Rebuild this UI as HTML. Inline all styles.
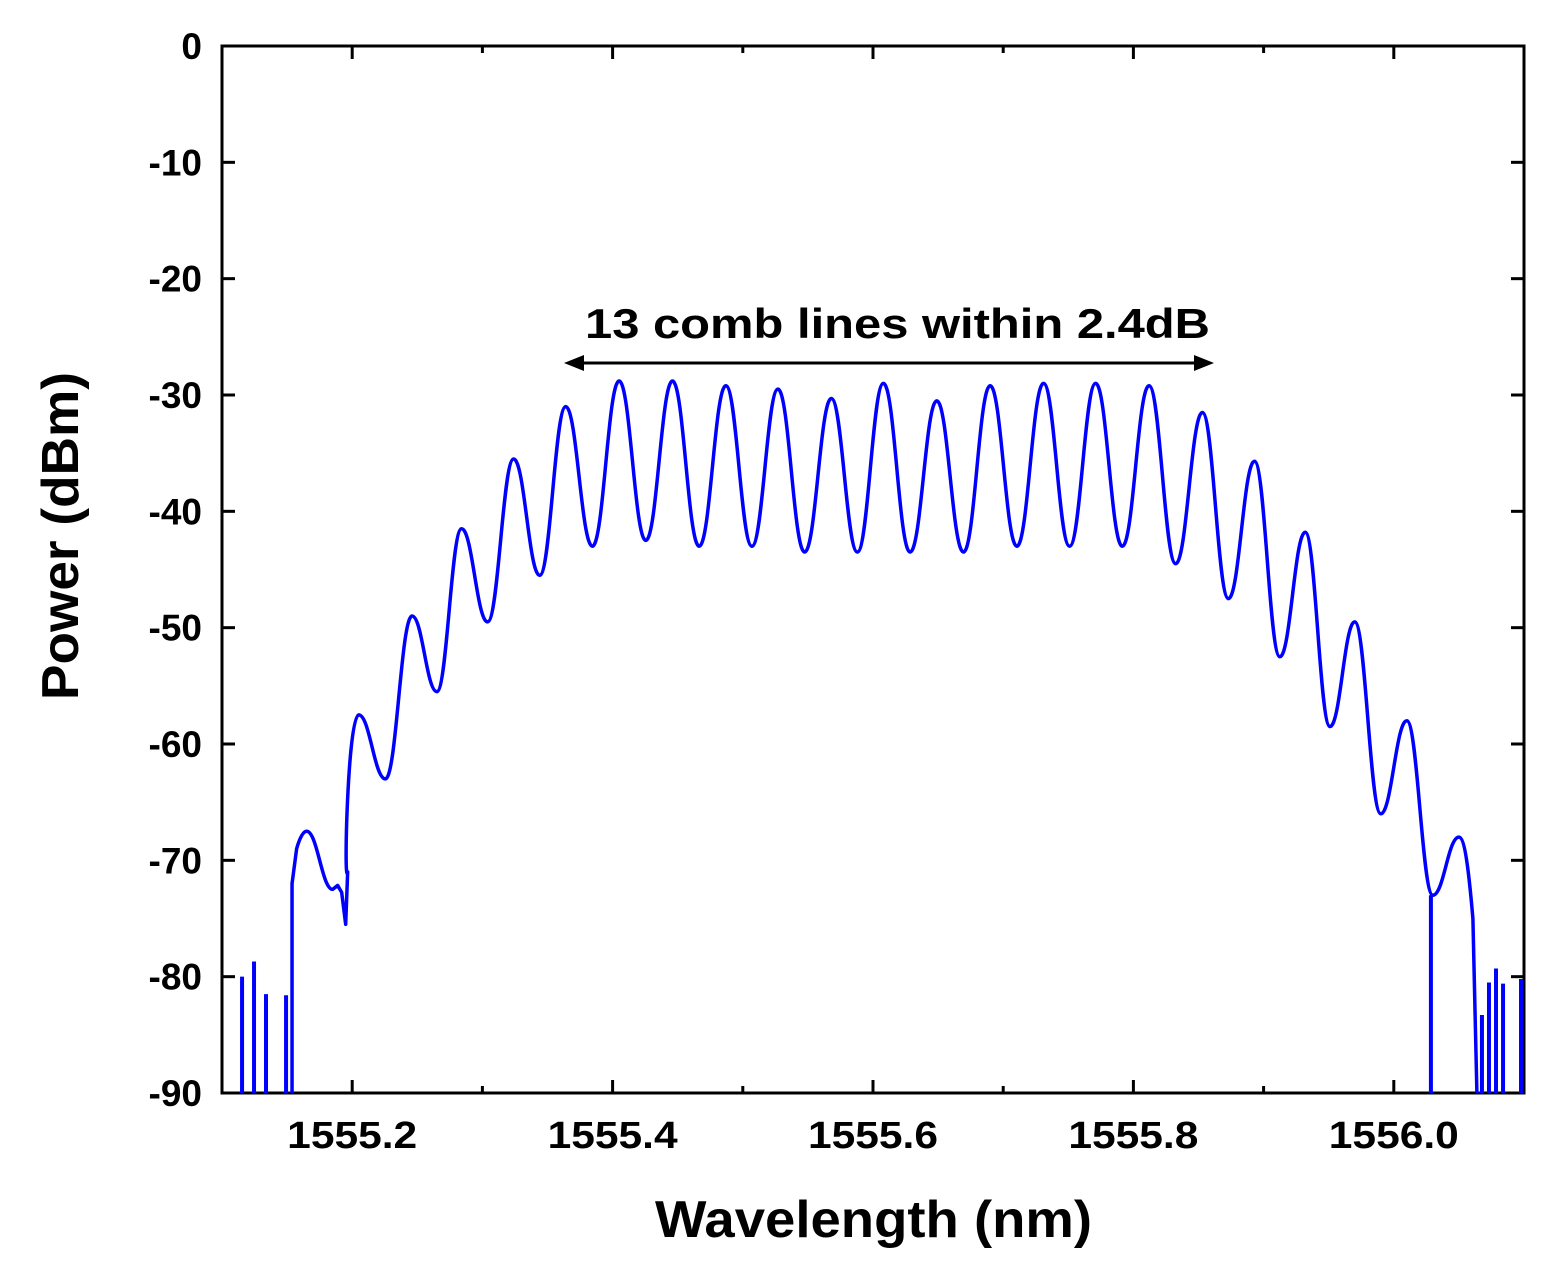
<!DOCTYPE html>
<html><head><meta charset="utf-8"><style>
html,body{margin:0;padding:0;background:#fff;}
svg{display:block;font-family:"Liberation Sans",Arial,sans-serif;font-weight:bold;}
</style></head><body>
<svg id="chart" width="1566" height="1282" viewBox="0 0 1566 1282" xmlns="http://www.w3.org/2000/svg">
<g id="axes"></g>
<path id="series" fill="none" stroke="#0000ff" stroke-width="3.5" stroke-linejoin="round"/>
<g id="noise"></g>
<text x="585" y="338" font-size="42" textLength="625" lengthAdjust="spacingAndGlyphs" fill="#000">13 comb lines within 2.4dB</text>
<g>
<line x1="578" y1="363" x2="1200" y2="363" stroke="#000" stroke-width="3"/>
<polygon points="564,363 584,355 584,371" fill="#000"/>
<polygon points="1214,363 1194,355 1194,371" fill="#000"/>
</g>
<text x="655" y="1237" font-size="52" textLength="437" lengthAdjust="spacingAndGlyphs">Wavelength (nm)</text>
<text transform="translate(78,700) rotate(-90)" font-size="52" textLength="328" lengthAdjust="spacingAndGlyphs">Power (dBm)</text>
</svg>
<script>
const xTicks=[1555.2,1555.4,1555.6,1555.8,1556.0];
const yTicks=[0,-10,-20,-30,-40,-50,-60,-70,-80,-90];
const peakWl=[1555.165,1555.205,1555.246,1555.284,1555.324,1555.364,1555.405,1555.446,1555.487,1555.527,1555.568,1555.608,1555.649,1555.690,1555.731,1555.771,1555.812,1555.853,1555.893,1555.932,1555.970,1556.010,1556.050];
const peakDb=[-67.5,-57.5,-49,-41.5,-35.5,-31,-28.8,-28.8,-29.2,-29.5,-30.3,-29,-30.5,-29.2,-29,-29,-29.2,-31.5,-35.7,-41.8,-49.5,-58,-68];
const troughDb=[-72.5,-63,-55.5,-49.5,-45.5,-43,-42.5,-43,-43,-43.5,-43.5,-43.5,-43.5,-43,-43,-43,-44.5,-47.5,-52.5,-58.5,-66,-73];
const noiseWl=[1555.1154,1555.1246,1555.1338,1555.1492,1556.0285,1556.0677,1556.0731,1556.0785,1556.0839,1556.0977];
const noiseDb=[-80,-78.7,-81.5,-81.6,-90,-83.3,-80.5,-79.3,-80.6,-80.2];
const NS='http://www.w3.org/2000/svg';
const L=222,R=1524,T=46,B=1093,x0=1555.1,x1=1556.1;
const sx=v=>L+(v-x0)/(x1-x0)*(R-L);
const sy=v=>T+(0-v)/90*(B-T);
const ax=document.getElementById('axes');
function mk(tag,attrs,parent){const e=document.createElementNS(NS,tag);for(const k in attrs)e.setAttribute(k,attrs[k]);(parent||ax).appendChild(e);return e;}
const frame=mk('rect',{x:L,y:T,width:R-L,height:B-T,fill:'none',stroke:'#000','stroke-width':3});


xTicks.forEach(v=>{const x=sx(v);
 const t1=mk('line',{x1:x,y1:B,x2:x,y2:B-13,stroke:'#000','stroke-width':3});
 
 
 mk('line',{x1:x,y1:T,x2:x,y2:T+13,stroke:'#000','stroke-width':3});
 const tx=mk('text',{x:x-65,y:B+55,'font-size':38,textLength:130,lengthAdjust:'spacingAndGlyphs'});tx.textContent=v.toFixed(1);
 
 
 const m=sx(v-0.1);
 mk('line',{x1:m,y1:B,x2:m,y2:B-7,stroke:'#000','stroke-width':3});
 mk('line',{x1:m,y1:T,x2:m,y2:T+7,stroke:'#000','stroke-width':3});
});
yTicks.forEach(v=>{const y=sy(v);
 const t1=mk('line',{x1:L,y1:y,x2:L+13,y2:y,stroke:'#000','stroke-width':3});
 
 
 mk('line',{x1:R,y1:y,x2:R-13,y2:y,stroke:'#000','stroke-width':3});
 const tx=mk('text',{x:202,y:y+13,'font-size':37,'text-anchor':'end'});tx.textContent=String(v);
 
 
});
const pts=[];
for(let i=0;i<peakWl.length;i++){
 pts.push([sx(peakWl[i]),sy(peakDb[i])]);
 if(i<troughDb.length){pts.push([(sx(peakWl[i])+sx(peakWl[i+1]))/2,sy(troughDb[i])]);}
}
let d=`M${sx(1555.1538)},${sy(-90)} L${sx(1555.1538)},${sy(-72)} L${pts[0][0]-10},${sy(-69)} Q${pts[0][0]-5},${pts[0][1]} ${pts[0][0]},${pts[0][1]}`;
for(let i=1;i<pts.length;i++){const a=pts[i-1],b=pts[i],dx=(b[0]-a[0])/2.4;
 if(i===1){d+=` C${a[0]+dx},${a[1]} ${b[0]-dx},${b[1]} ${b[0]},${b[1]} L${b[0]+5},${b[1]-4} L${b[0]+9},${b[1]+3} L${b[0]+13},${sy(-75.5)} L${b[0]+15},${sy(-71)}`;continue;}
 d+=` C${a[0]+dx},${a[1]} ${b[0]-dx},${b[1]} ${b[0]},${b[1]}`;}
const last=pts[pts.length-1];
d+=` C${last[0]+6},${last[1]} ${last[0]+10},${sy(-71)} ${last[0]+14},${sy(-75)} L${last[0]+18},${sy(-90)}`;
document.getElementById('series').setAttribute('d',d);
const ng=document.getElementById('noise');
noiseWl.forEach((w,i)=>{const x=sx(w);
 const top=i===4?sy(-73):sy(noiseDb[i]);
 const bot=i===4?sy(noiseDb[i]):sy(-90);
 const l=mk('line',{x1:x,y1:bot,x2:x,y2:top,stroke:'#0000ff','stroke-width':4},ng);
 
 
});
</script>
</body></html>
